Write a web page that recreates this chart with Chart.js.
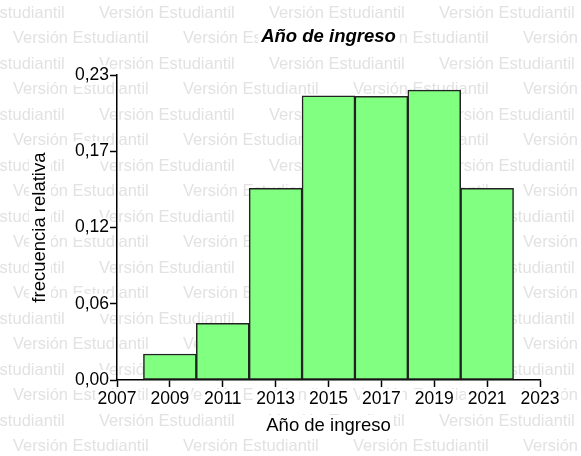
<!DOCTYPE html>
<html>
<head>
<meta charset="utf-8">
<script src="https://cdn.jsdelivr.net/npm/chart.js@4.4.0/dist/chart.umd.min.js"></script>
<style>
    html, body { margin: 0; padding: 0; background: #fff; }
    canvas { display: block; }
</style>
</head>
<body>
<canvas id="chartAnio" width="581" height="456"></canvas>
<script>
// Datos del histograma (centros de clase de 2 años)
const binCenters = [2009, 2011, 2013, 2015, 2017, 2019, 2021];
const relFreq = [0.0196, 0.0427, 0.1446, 0.2144, 0.2141, 0.2187, 0.1446];

// Marcas de los ejes
const xTicks = [2007, 2009, 2011, 2013, 2015, 2017, 2019, 2021, 2023];
const yTicks = [0, 0.0575, 0.115, 0.1725, 0.23];
const yTickLabels = ['0,00', '0,06', '0,12', '0,17', '0,23'];

const WATERMARK = 'Versión Estudiantil';
const FONT = "'Liberation Sans', Arial, sans-serif";
const TICK_SIZE = 17.5;
const TITLE_SIZE = 18.5;

// Fondo con marca de agua y cajas blancas detrás de los textos
const fondoPlugin = {
    id: 'fondo',
    beforeDraw(chart) {
        const ctx = chart.ctx;
        const area = chart.chartArea;
        const sx = chart.scales.x;
        const sy = chart.scales.y;
        ctx.save();
        ctx.fillStyle = '#fff';
        ctx.fillRect(0, 0, chart.width, chart.height);

        ctx.font = '16.5px ' + FONT;
        ctx.fillStyle = '#e2e2e2';
        ctx.textBaseline = 'middle';
        for (let k = 0; k < 18; k++) {
            const y = 13 + k * 25.5;
            for (let x = (k % 2 === 0) ? -71 : 13; x < chart.width; x += 170) {
                ctx.fillText(WATERMARK, x, y);
            }
        }

        ctx.fillStyle = '#fff';
        ctx.font = TICK_SIZE + 'px ' + FONT;
        xTicks.forEach(v => {
            const w = ctx.measureText(String(v)).width;
            const px = sx.getPixelForValue(v);
            ctx.fillRect(px - w / 2 - 2, sx.top + 9, w + 4, 21);
        });
        yTicks.forEach((v, i) => {
            const w = ctx.measureText(yTickLabels[i]).width;
            const py = sy.getPixelForValue(v);
            ctx.fillRect(sy.right - 8 - w - 2, py - 10, w + 3, 20);
        });

        const cx = (area.left + area.right) / 2;
        const cy = (area.top + area.bottom) / 2;
        ctx.font = 'italic bold ' + TITLE_SIZE + 'px ' + FONT;
        let w = ctx.measureText('Año de ingreso').width;
        ctx.fillRect(cx - w / 2 - 3, 27, w + 6, 22);

        ctx.font = TITLE_SIZE + 'px ' + FONT;
        w = ctx.measureText('Año de ingreso').width;
        ctx.fillRect(cx - w / 2 - 3, 415, w + 6, 23);
        w = ctx.measureText('frecuencia relativa').width;
        ctx.fillRect(29, cy - w / 2 - 3, 22, w + 6);
        ctx.restore();
    }
};

Chart.defaults.font.family = FONT;
Chart.defaults.color = '#000';

new Chart(document.getElementById('chartAnio'), {
    type: 'bar',
    data: {
        datasets: [{
            data: binCenters.map((c, i) => ({ x: c, y: relFreq[i] })),
            backgroundColor: '#80ff80',
            borderColor: '#222',
            borderWidth: 1.5,
            borderSkipped: false,
            barPercentage: 1,
            categoryPercentage: 1
        }]
    },
    options: {
        responsive: false,
        animation: false,
        devicePixelRatio: 1,
        layout: { padding: { top: 26, right: 41, bottom: 0, left: 0 } },
        plugins: {
            legend: { display: false },
            tooltip: { enabled: false },
            title: {
                display: true,
                fullSize: false,
                text: 'Año de ingreso',
                color: '#000',
                font: { size: TITLE_SIZE, weight: 'bold', style: 'italic' },
                padding: { top: 0, bottom: 27 }
            }
        },
        scales: {
            x: {
                type: 'linear',
                offset: false,
                min: 2007,
                max: 2023,
                afterBuildTicks: s => { s.ticks = xTicks.map(v => ({ value: v })); },
                afterFit: s => { s.height = 76; },
                grid: { offset: false, drawOnChartArea: false, drawTicks: true, tickLength: 7, tickColor: '#000', tickWidth: 1.5 },
                border: { display: true, color: '#000', width: 1.5 },
                ticks: {
                    padding: 2,
                    autoSkip: false,
                    maxRotation: 0,
                    color: '#000',
                    font: { size: TICK_SIZE },
                    callback: value => String(value)
                },
                title: { display: true, text: 'Año de ingreso', color: '#000', font: { size: TITLE_SIZE }, padding: { top: 0, bottom: 19 } }
            },
            y: {
                min: 0,
                max: 0.23,
                afterBuildTicks: s => { s.ticks = yTicks.map(v => ({ value: v })); },
                afterFit: s => { s.width = 117; },
                grid: { drawOnChartArea: false, drawTicks: true, tickLength: 7, tickColor: '#000', tickWidth: 1.5 },
                border: { display: true, color: '#000', width: 1.5 },
                ticks: {
                    padding: 1,
                    color: '#000',
                    font: { size: TICK_SIZE },
                    callback: (value, index) => yTickLabels[index]
                },
                title: { display: true, text: 'frecuencia relativa', color: '#000', font: { size: TITLE_SIZE }, padding: { top: 29, bottom: 0 } }
            }
        }
    },
    plugins: [fondoPlugin]
});
</script>
</body>
</html>
